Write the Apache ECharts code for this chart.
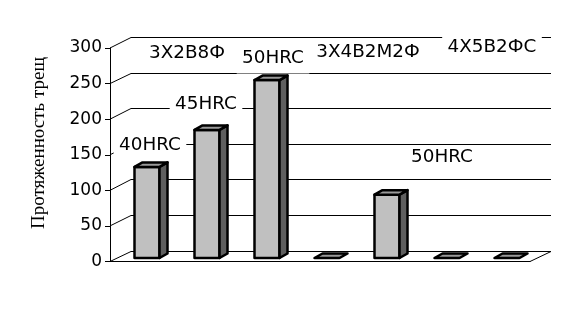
<!DOCTYPE html>
<html><head><meta charset="utf-8">
<script src="https://cdn.jsdelivr.net/npm/echarts@6/dist/echarts.min.js"></script>
<style>html,body{margin:0;background:#fff}#c{width:588px;height:310px}</style></head>
<body><div id="c"></div>
<script>
const categories = ['1', '2', '3', '4', '5', '6', '7'];
const values = [128, 180, 250, 0, 89, 0, 0];
const yTicks = [0, 50, 100, 150, 200, 250, 300];
const hardnessLabels = ['40HRC', '45HRC', '50HRC', '50HRC'];
const steelLabels = ['3Х2В8Ф', '3Х4В2М2Ф', '4Х5В2ФС'];
const yTitle = 'Протяженность трещ';

const DX = 21, DY = -11;        // wall depth offset
const BX = 7, BY = -3.5;        // bar front plane offset
const BW = 25, BDX = 8, BDY = -4.5;
const FONT = '17px "DejaVu Sans"';

const chart = echarts.init(document.getElementById('c'), null, {renderer: 'canvas'});

function lineEl(x1, y1, x2, y2) {
  return {type: 'line', shape: {x1, y1, x2, y2}, style: {stroke: '#000', lineWidth: 1}};
}

function label(text, x, y, boxed) {
  return {
    type: 'text', x, y, z: 2, scaleX: 1.08,
    style: {
      text, font: FONT, fill: '#000',
      align: 'center', verticalAlign: 'middle',
      textAlign: 'center', textVerticalAlign: 'middle',
      backgroundColor: boxed ? '#fff' : 'transparent',
      padding: [6, 5]
    }
  };
}

chart.setOption({
  animation: false,
  grid: {left: 110, top: 48, width: 420, height: 213.5},
  xAxis: {
    type: 'category', data: categories,
    axisLine: {lineStyle: {color: '#000', width: 1}},
    axisTick: {show: false}, axisLabel: {show: false}
  },
  yAxis: {
    type: 'value', min: 0, max: 300, interval: 50,
    axisLine: {show: true, lineStyle: {color: '#000', width: 1}},
    axisTick: {show: true, length: 5, lineStyle: {color: '#000'}},
    axisLabel: {color: '#000', fontSize: 17, fontFamily: 'DejaVu Sans', margin: 8},
    splitLine: {show: false}
  },
  series: [
    {
      type: 'custom', z: 1, silent: true,
      data: yTicks.map(v => [0, v]),
      renderItem(params, api) {
        const cs = params.coordSys;
        const v = api.value(1);
        const y = api.coord([0, v])[1];
        const yb = Math.round(y + DY) + 0.5;
        const x0 = cs.x, x1 = cs.x + cs.width;
        const children = [
          lineEl(x0, y, x0 + DX, yb),
          lineEl(x0 + DX, yb, x1 + DX, yb)
        ];
        if (v === 0) children.push(lineEl(x1, y, x1 + DX, yb));
        return {type: 'group', children};
      }
    },
    {
      type: 'custom', z: 5,
      data: values.map((v, i) => [i, v]),
      renderItem(params, api) {
        const i = api.value(0), v = api.value(1);
        const base = api.coord([i, 0]);
        const top = api.coord([i, v]);
        const l = base[0] + BX - BW / 2, r = l + BW;
        const b = base[1] + BY, t = top[1] + BY;
        const st = (fill) => ({fill, stroke: '#000', lineWidth: 2.5, lineJoin: 'round'});
        const children = [];
        if (b - t > 0.5) {
          children.push({type: 'rect', shape: {x: l, y: t, width: BW, height: b - t}, style: st('#c0c0c0')});
          children.push({type: 'polygon', shape: {points: [[r, t], [r + BDX, t + BDY], [r + BDX, b + BDY], [r, b]]}, style: st('#5f5f5f')});
        }
        children.push({type: 'polygon', shape: {points: [[l, t], [l + BDX, t + BDY], [r + BDX, t + BDY], [r, t]]}, style: st('#9a9a9a')});
        return {type: 'group', children};
      }
    }
  ],
  graphic: [
    label(hardnessLabels[0], 150, 146, true),
    label(hardnessLabels[1], 206, 105, true),
    label(hardnessLabels[2], 273, 59, true),
    label(hardnessLabels[3], 442, 158, false),
    label(steelLabels[0], 187, 54, false),
    label(steelLabels[1], 368, 53, false),
    label(steelLabels[2], 492, 48, true),
    {
      type: 'text', x: 39, y: 143, rotation: Math.PI / 2,
      style: {
        text: yTitle, font: '19px "Liberation Serif"', fill: '#000',
        align: 'center', verticalAlign: 'middle',
        textAlign: 'center', textVerticalAlign: 'middle'
      }
    }
  ]
});
</script>
</body></html>
